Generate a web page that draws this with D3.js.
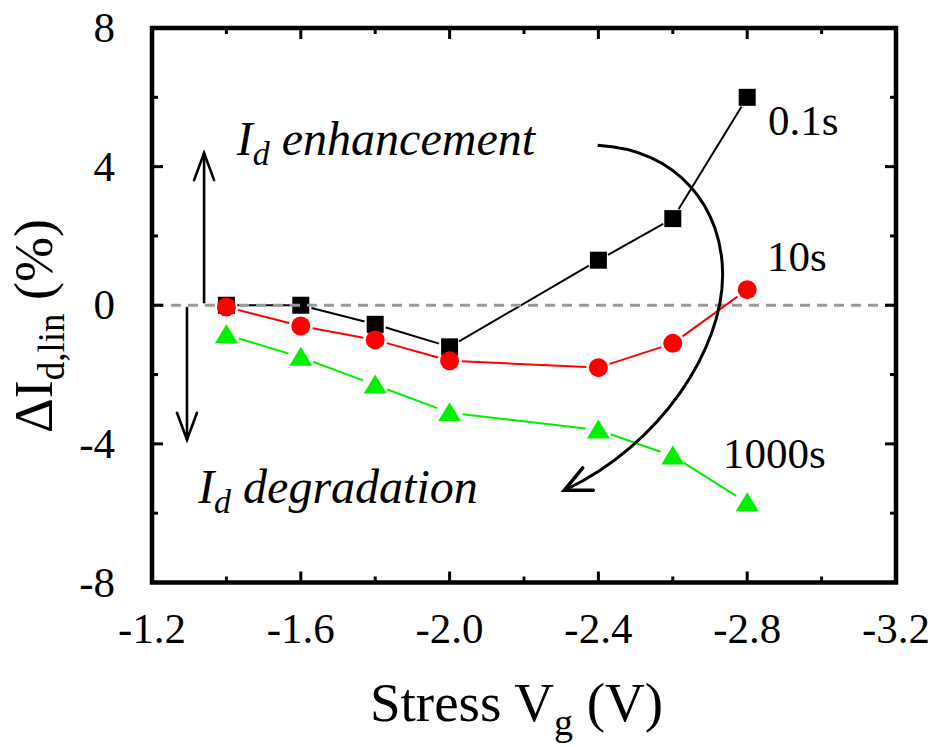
<!DOCTYPE html>
<html>
<head>
<meta charset="utf-8">
<script src="https://cdn.jsdelivr.net/npm/d3@7"></script>
<style>
  html, body { margin: 0; padding: 0; background: #fff; }
  svg { display: block; }
  svg text { font-family: "Liberation Serif", "DejaVu Serif", serif; fill: #000; }
</style>
</head>
<body>
<svg id="chart" width="932" height="747"></svg>
<script>
// ---- data ----
const stressVg = [-1.4, -1.6, -1.8, -2.0, -2.4, -2.6, -2.8];
const d01s   = [0.0, 0.0, -0.55, -1.2, 1.3, 2.5, 6.0];
const d10s   = [-0.05, -0.6, -1.0, -1.6, -1.8, -1.1, 0.45];
const d1000s = [-0.85, -1.5, -2.3, -3.1, -3.6, -4.35, -5.7];
const xTicks = [-1.2, -1.6, -2.0, -2.4, -2.8, -3.2];
const yTicks = [-8, -4, 0, 4, 8];
const xMinor = [-1.4, -1.8, -2.2, -2.6, -3.0];
const yMinor = [-6, -2, 2, 6];
const seriesLabels = ["0.1s", "10s", "1000s"];

const svg = d3.select("#chart");
const FONT = "'Liberation Serif', 'DejaVu Serif', serif";
const L = 152, R = 896, T = 28, B = 582.5;
const x = d3.scaleLinear().domain([-1.2, -3.2]).range([L, R]);
const y = d3.scaleLinear().domain([-8, 8]).range([B, T]);

const series = [
  { vals: d01s,   color: "#000000", shape: "square",   gap: 11 },
  { vals: d10s,   color: "#ff0000", shape: "circle",   gap: 12 },
  { vals: d1000s, color: "#00f000", shape: "triangle", gap: 13 }
];

function drawSeries(s) {
  const g = svg.append("g");
  const pts = stressVg.map((v, i) => [x(v), y(s.vals[i])]);
  for (let i = 0; i < pts.length - 1; i++) {
    const [x1, y1] = pts[i], [x2, y2] = pts[i + 1];
    const dx = x2 - x1, dy = y2 - y1, len = Math.hypot(dx, dy);
    if (len <= 2 * s.gap) continue;
    const ux = dx / len, uy = dy / len;
    g.append("line")
      .attr("x1", x1 + ux * s.gap).attr("y1", y1 + uy * s.gap)
      .attr("x2", x2 - ux * s.gap).attr("y2", y2 - uy * s.gap)
      .attr("stroke", s.color).attr("stroke-width", 2);
  }
  pts.forEach(([px, py]) => {
    if (s.shape === "square") {
      g.append("rect").attr("x", px - 8.5).attr("y", py - 8.5)
        .attr("width", 17).attr("height", 17).attr("fill", s.color);
    } else if (s.shape === "circle") {
      g.append("circle").attr("cx", px).attr("cy", py).attr("r", 9.5).attr("fill", s.color);
    } else {
      g.append("path")
        .attr("d", `M${px},${py - 10.5} L${px + 11.5},${py + 8.5} L${px - 11.5},${py + 8.5} Z`)
        .attr("fill", s.color);
    }
  });
}

drawSeries(series[0]);

// dashed zero line
svg.append("line")
  .attr("x1", L + 2).attr("x2", R - 2)
  .attr("y1", y(0)).attr("y2", y(0))
  .attr("stroke", "#9a9a9a").attr("stroke-width", 3)
  .attr("stroke-dasharray", "10,7");

drawSeries(series[1]);
drawSeries(series[2]);

// ---- axes frame with inward ticks ----
const frame = svg.append("g");
const tickW = 3;
function vtick(px, yBase, len, dir) {
  frame.append("line").attr("x1", px).attr("x2", px)
    .attr("y1", yBase).attr("y2", yBase + dir * len)
    .attr("stroke", "#000").attr("stroke-width", tickW);
}
function htick(py, xBase, len, dir) {
  frame.append("line").attr("y1", py).attr("y2", py)
    .attr("x1", xBase).attr("x2", xBase + dir * len)
    .attr("stroke", "#000").attr("stroke-width", tickW);
}
xTicks.forEach(v => { vtick(x(v), B, 11, -1); vtick(x(v), T, 11, 1); });
xMinor.forEach(v => { vtick(x(v), B, 6, -1); vtick(x(v), T, 6, 1); });
yTicks.forEach(v => { htick(y(v), L, 11, 1); htick(y(v), R, 11, -1); });
yMinor.forEach(v => { htick(y(v), L, 6, 1); htick(y(v), R, 6, -1); });
frame.append("rect").attr("x", L).attr("y", T)
  .attr("width", R - L).attr("height", B - T)
  .attr("fill", "none").attr("stroke", "#000").attr("stroke-width", 4.5);

// tick labels
svg.append("g").selectAll("text").data(xTicks).join("text")
  .attr("x", d => x(d)).attr("y", B + 60)
  .attr("text-anchor", "middle").attr("font-size", 43).attr("font-family", FONT)
  .text(d => d.toFixed(1));
svg.append("g").selectAll("text").data(yTicks).join("text")
  .attr("x", L - 37).attr("y", d => y(d) + 14)
  .attr("text-anchor", "end").attr("font-size", 43).attr("font-family", FONT)
  .text(d => String(d));

// axis titles
const xt = svg.append("text").attr("x", 370).attr("y", 721)
  .attr("font-size", 55).attr("font-family", FONT);
xt.append("tspan").text("Stress V");
xt.append("tspan").attr("font-size", 38).attr("dy", 14).text("g");
xt.append("tspan").attr("dy", -14).text(" (V)");

const yt = svg.append("text")
  .attr("transform", `translate(52,433) rotate(-90)`)
  .attr("font-size", 54).attr("font-family", FONT);
yt.append("tspan").text("\u0394I");
yt.append("tspan").attr("font-size", 37).attr("dy", 12).text("d,lin");
yt.append("tspan").attr("dy", -12).text(" (%)");

// series labels
const lblPos = [[-2.856, 4.91], [-2.853, 0.99], [-2.735, -4.70]];
svg.append("g").selectAll("text").data(seriesLabels).join("text")
  .attr("x", (d, i) => x(lblPos[i][0])).attr("y", (d, i) => y(lblPos[i][1]))
  .attr("font-size", 43).attr("font-family", FONT).text(d => d);

// annotation texts
function italicLabel(xv, yv, word) {
  const t = svg.append("text").attr("x", x(xv)).attr("y", y(yv))
    .attr("font-size", 48).attr("font-style", "italic").attr("font-family", FONT);
  t.append("tspan").text("I");
  t.append("tspan").attr("font-size", 34).attr("dy", 10).text("d");
  t.append("tspan").attr("dy", -10).text(" " + word);
}
italicLabel(-1.428, 4.34, "enhancement");
italicLabel(-1.324, -5.71, "degradation");

// straight arrows
function openArrow(xv, y0, y1) {
  const px = x(xv), p0 = y(y0), p1 = y(y1);
  const dir = p1 < p0 ? 1 : -1;
  const g = svg.append("g").attr("stroke", "#000").attr("fill", "none")
    .attr("stroke-width", 2.6).attr("stroke-linecap", "round");
  g.append("line").attr("x1", px).attr("x2", px).attr("y1", p0).attr("y2", p1);
  g.append("path").attr("d",
    `M${px - 10},${p1 + dir * 27} L${px},${p1} L${px + 10},${p1 + dir * 27}`)
    .attr("stroke-linejoin", "miter");
}
openArrow(-1.34, 0.09, 4.39);
openArrow(-1.294, -0.08, -3.88);

// curved arrow (in data coordinates)
const curve = [[-2.398, 4.62], [-2.621, 4.48], [-2.734, 2.75], [-2.734, 0.88],
               [-2.734, -1.28], [-2.567, -4.02], [-2.312, -5.32]];
const cp = curve.map(([a, b]) => [x(a), y(b)]);
svg.append("path")
  .attr("d", `M${cp[0]} C${cp[1]} ${cp[2]} ${cp[3]} C${cp[4]} ${cp[5]} ${cp[6]}`)
  .attr("fill", "none").attr("stroke", "#000").attr("stroke-width", 3);
{
  const [tx, ty] = cp[6];
  const [cx, cy] = cp[5];
  const ang = Math.atan2(cy - ty, cx - tx);
  const a1 = ang - 0.44, a2 = ang + 0.44, len = 29;
  const tipx = tx - Math.cos(ang) * 1.5, tipy = ty - Math.sin(ang) * 1.5;
  const b1 = [tipx + Math.cos(a1) * len, tipy + Math.sin(a1) * len];
  const b2 = [tipx + Math.cos(a2) * len, tipy + Math.sin(a2) * len];
  svg.append("path")
    .attr("d", `M${b1} L${tipx},${tipy} L${b2}`)
    .attr("fill", "none").attr("stroke", "#000").attr("stroke-width", 3.5)
    .attr("stroke-linejoin", "miter").attr("stroke-linecap", "round");
}
</script>
</body>
</html>
